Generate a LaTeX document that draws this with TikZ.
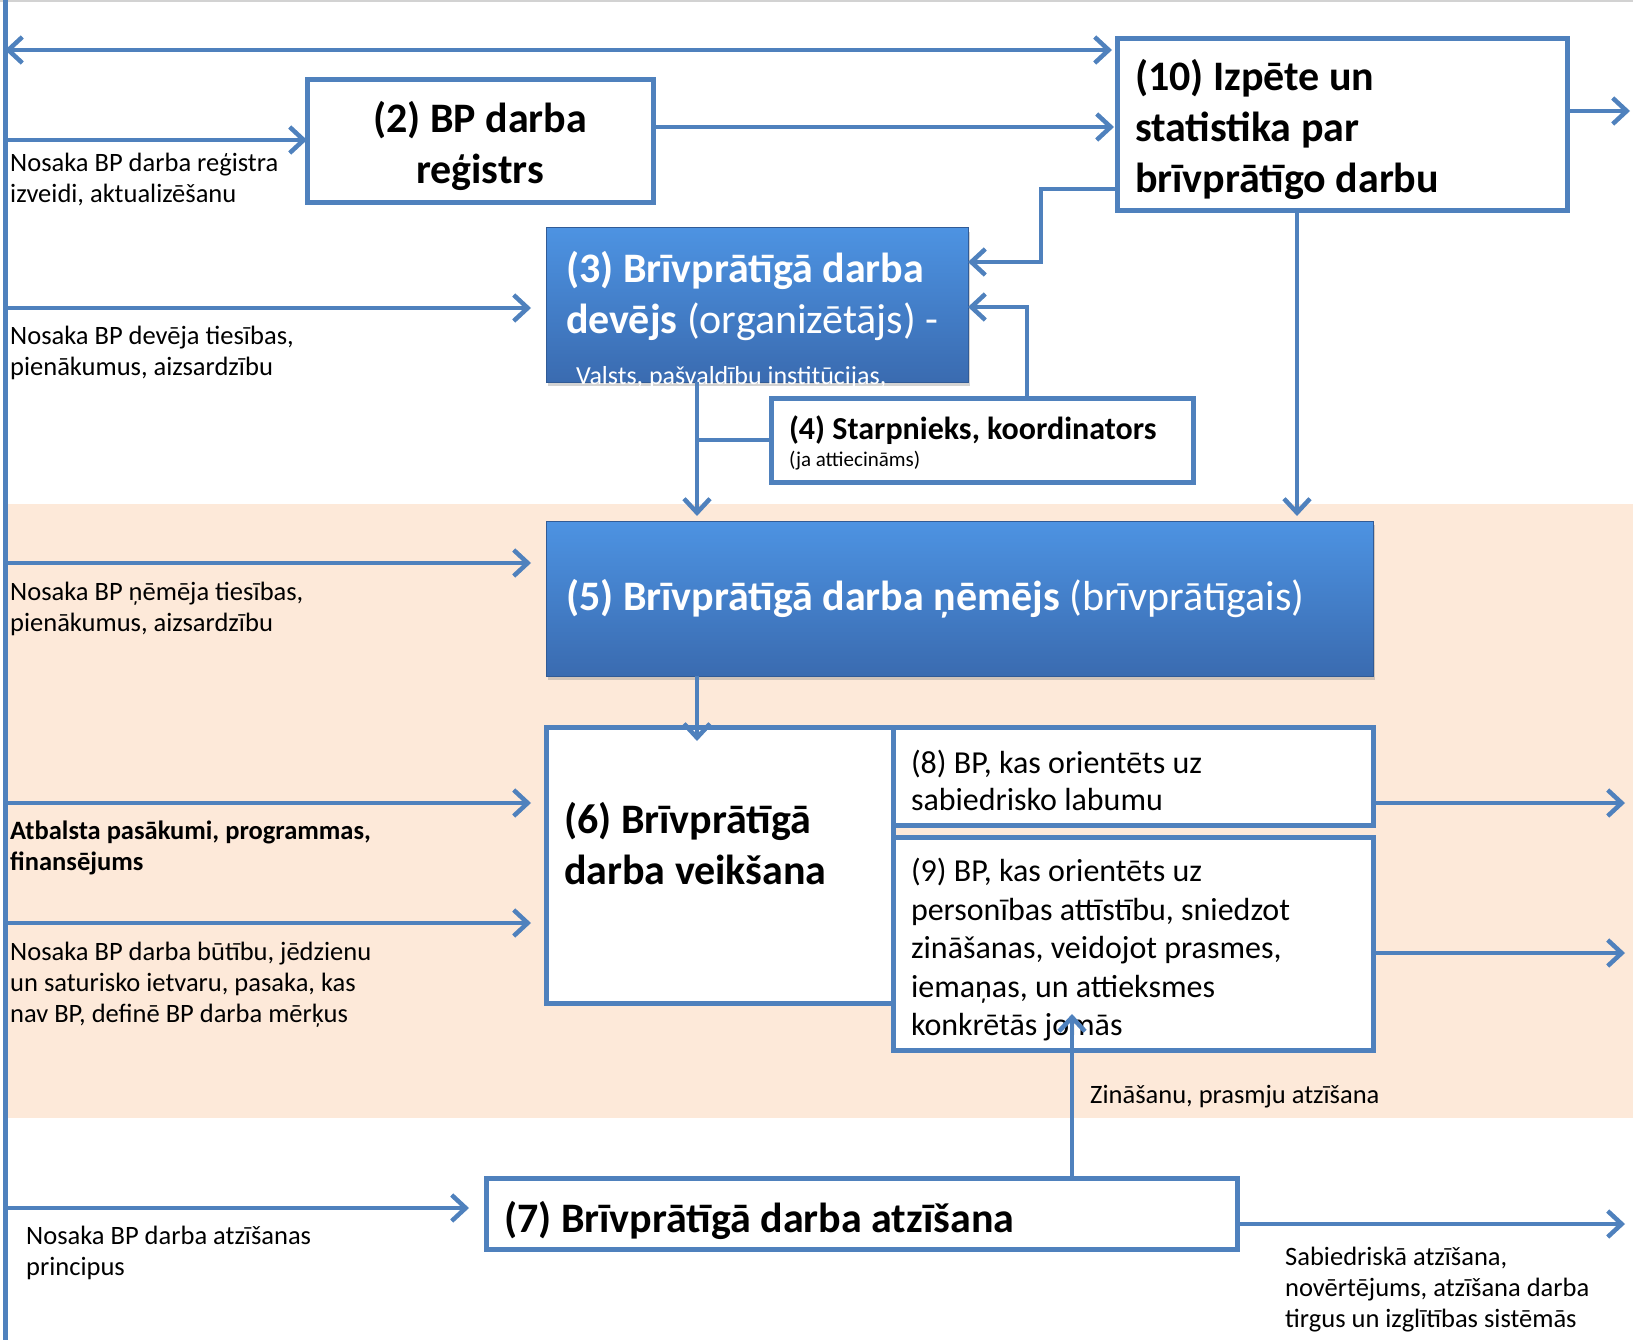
\documentclass[tikz,border=0pt]{standalone}
\usepackage{fontspec}
\setmainfont{Carlito}
\usepackage{tikz}
\usetikzlibrary{arrows.meta,positioning,shadows}

\definecolor{bpline}{HTML}{4F81BD}
\definecolor{bpband}{HTML}{FDE9D9}
\definecolor{bptop}{HTML}{4D93E2}
\definecolor{bpbottom}{HTML}{3A6BB0}
\newcommand{\bplift}[1]{\rule{0pt}{#1}}

\begin{document}
\begin{tikzpicture}[x=1pt,y=-1pt,node distance=12pt,
	>={Straight Barb[length=14pt,width=26pt]},
	link/.style={color=bpline,line width=4.5pt},
	box/.style={draw=bpline,line width=5pt,fill=white,outer sep=0pt,
		anchor=north west,inner xsep=18pt,inner ysep=0pt,align=flush left},
	bluebox/.style={draw=bpbottom!85!black,line width=1pt,top color=bptop,
		bottom color=bpbottom,drop shadow={opacity=0.35,shadow xshift=2pt,shadow yshift=-4pt},
		outer sep=0pt,anchor=north west,inner xsep=20pt,inner ysep=0pt,
		align=flush left,text=white},
	big/.style={font=\fontsize{42}{51}\selectfont\bfseries},
	mid/.style={font=\fontsize{32}{38.5}\selectfont},
	note/.style={anchor=north west,inner sep=0pt,align=flush left,
		font=\fontsize{26.5}{31}\selectfont}]
\useasboundingbox (0,0) rectangle (1633,1340);
\fill[bpband] (5,504) rectangle (1633,1118);
\draw[gray!35,line width=2pt] (0,1) -- (1633,1);

% left bar and free ends
\coordinate (bar_top) at (5,0);
\coordinate (bar_end) at (5,1340);
\coordinate (in_top) at (5,50);
\coordinate (in_2) at (5,140);
\coordinate (in_3) at (5,308);
\coordinate (in_5) at (5,563);
\coordinate (in_6a) at (5,803);
\coordinate (in_6b) at (5,923);
\coordinate (in_7) at (5,1208);
\coordinate (out_10) at (1630,111);
\coordinate (out_8) at (1625,803);
\coordinate (out_9) at (1625,953);
\coordinate (out_7) at (1625,1224);
\draw[link,line width=5pt] (bar_top) -- (bar_end);

% boxes
\node[box,big,align=flush center,text width=310pt,minimum height=123pt] (b_2) at (307,80) {\bplift{41pt}(2) BP darba\\reģistrs};
\node[box,big,text width=414pt,minimum height=172pt] (b_10) at (1117,39) {\bplift{41pt}(10) Izpēte un\\statistika par\\brīvprātīgo darbu};
\node[bluebox,big,text width=382pt,minimum height=154pt,
	label={[anchor=base west,xshift=30pt,yshift=-2pt,inner sep=0pt,text=white,
		font=\fontsize{26}{28}\selectfont]south west:Valsts, pašvaldību institūcijas,}] (b_3) at (546,228)
	{(3) Brīvprātīgā darba\\devējs {\mdseries (organizētājs) -}\\[-25pt]\mbox{}};
\node[box,text width=386pt,minimum height=84pt,font=\fontsize{21}{27}\selectfont] (b_4) at (771,398)
	{{\bfseries\fontsize{32}{34}\selectfont\bplift{29pt}(4) Starpnieks, koordinators}\\(ja attiecināms)};
\node[bluebox,big,text width=787pt,minimum height=155pt] (b_5) at (546,521)
	{(5) Brīvprātīgā darba ņēmējs {\mdseries (brīvprātīgais)}};
\node[box,big,text width=311pt,minimum height=276pt] (b_6) at (546,727) {(6) Brīvprātīgā\\darba veikšana\\[-8pt]\mbox{}};
\node[box,mid,font=\fontsize{32}{37.5}\selectfont,text width=444pt,minimum height=98pt] (b_8) at (b_6.north east) {\bplift{32pt}(8) BP, kas orientēts uz\\sabiedrisko labumu};
\node[box,mid,text width=444pt,minimum height=213pt,below=of b_8.south west,anchor=north west] (b_9)
	{\bplift{36pt}(9) BP, kas orientēts uz\\personības attīstību, sniedzot\\zināšanas, veidojot prasmes,\\iemaņas, un attieksmes\\konkrētās jomās};
\node[box,big,text width=715pt,minimum height=71pt] (b_7) at (486,1178) {\bplift{45pt}(7) Brīvprātīgā darba atzīšana};

% notes
\node[note] (l_2) at (10,153) {Nosaka BP darba reģistra\\izveidi, aktualizēšanu};
\node[note] (l_3) at (10,326) {Nosaka BP devēja tiesības,\\pienākumus, aizsardzību};
\node[note] (l_5) at (10,582) {Nosaka BP ņēmēja tiesības,\\pienākumus, aizsardzību};
\node[note,font=\fontsize{26.5}{31}\selectfont\bfseries] (l_6a) at (10,821) {Atbalsta pasākumi, programmas,\\finansējums};
\node[note] (l_6b) at (10,942) {Nosaka BP darba būtību, jēdzienu\\un saturisko ietvaru, pasaka, kas\\nav BP, definē BP darba mērķus};
\node[note] (l_7) at (26,1226) {Nosaka BP darba atzīšanas\\principus};
\node[note] (l_79) at (1090,1085) {Zināšanu, prasmju atzīšana};
\node[note] (l_out) at (1285,1247) {Sabiedriskā atzīšana,\\novērtējums, atzīšana darba\\tirgus un izglītības sistēmās};

% connectors
\path[link,->]	(in_2)	edge	(in_2 -| b_2.west)
	(in_3)	edge[shorten >=15pt]	(in_3 -| b_3.west)
	(in_5)	edge[shorten >=15pt]	(in_5 -| b_5.west)
	(in_6a)	edge[shorten >=15pt]	(in_6a -| b_6.west)
	(in_6b)	edge[shorten >=15pt]	(in_6b -| b_6.west)
	(in_7)	edge[shorten >=17pt]	(in_7 -| b_7.west)
	(in_top)	edge[<->,shorten >=5pt]	(in_top -| b_10.west)
	(b_2.east |- 0,127)	edge[shorten >=3pt]	(b_10.west |- 0,127)
	(b_10.east |- out_10)	edge	(out_10)
	(b_8.east |- out_8)	edge	(out_8)
	(b_9.east |- out_9)	edge	(out_9)
	(b_7.east |- out_7)	edge	(out_7)
	(b_5.south -| 697,0)	edge[shorten >=-14pt]	(b_6.north -| 697,0)
	(b_7.north -| 1072,0)	edge[shorten >=-36pt]	(b_9.south -| 1072,0)
	(b_10.south -| 1297,0)	edge[shorten >=5pt]	(b_5.north -| 1297,0)
	(b_3.south -| 697,0)	edge[shorten >=5pt]	(b_5.north -| 697,0);
\draw[link,->]	(b_10.west |- 0,189) -| (1041,262) -- (b_3.east |- 0,262);
\draw[link,->]	(b_4.north -| 1027,0) |- (b_3.east |- 0,307);
\draw[link]	(b_4.west) -- (b_4.west -| 697,0);
\end{tikzpicture}
\end{document}
